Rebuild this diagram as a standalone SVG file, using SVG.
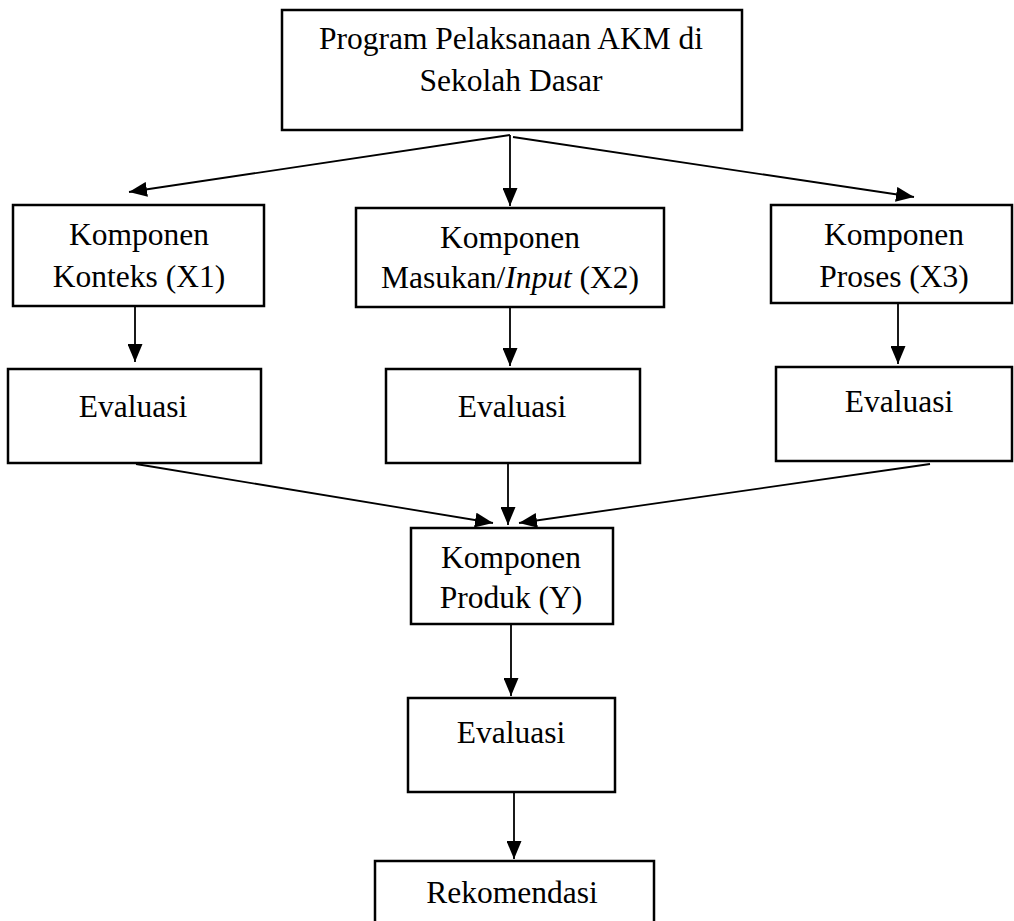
<svg xmlns="http://www.w3.org/2000/svg" width="1014" height="921" viewBox="0 0 1014 921">
<style>
.box{fill:#fff;stroke:#000;stroke-width:2.5}
.t{font-family:"Liberation Serif","Times New Roman",serif;font-size:31.5px;fill:#000;text-anchor:middle}
.c{stroke:#000;stroke-width:1.8;fill:none;marker-end:url(#ah)}
</style>
<defs>
<marker id="ah" viewBox="0 0 18 15" refX="18" refY="7.5" markerWidth="18" markerHeight="15" markerUnits="userSpaceOnUse" orient="auto">
<path d="M0,0 L18,7.5 L0,15 z" fill="#000"/>
</marker>
</defs>
<rect width="1014" height="921" fill="#fff"/>
<g id="connectors">
<line class="c" x1="510" y1="135" x2="129" y2="192"/>
<line class="c" x1="510" y1="135" x2="510" y2="206"/>
<line class="c" x1="513" y1="137" x2="914" y2="197"/>
<line class="c" x1="135" y1="306" x2="135" y2="362"/>
<line class="c" x1="510" y1="307" x2="510" y2="366"/>
<line class="c" x1="898" y1="303" x2="898" y2="364"/>
<line class="c" x1="136" y1="464" x2="493" y2="523"/>
<line class="c" x1="508" y1="463" x2="508" y2="525"/>
<line class="c" x1="930" y1="464" x2="519" y2="523"/>
<line class="c" x1="511" y1="624" x2="511" y2="696"/>
<line class="c" x1="514" y1="792" x2="514" y2="859"/>
</g>
<g id="program">
<rect class="box" x="282" y="10" width="460" height="120"/>
<text class="t" x="511" y="49">Program Pelaksanaan AKM di</text>
<text class="t" x="511" y="91">Sekolah Dasar</text>
</g>
<g id="konteks">
<rect class="box" x="13" y="205" width="251" height="101"/>
<text class="t" x="139" y="245">Komponen</text>
<text class="t" x="139" y="287">Konteks (X1)</text>
</g>
<g id="masukan">
<rect class="box" x="356" y="208" width="308" height="99"/>
<text class="t" x="510" y="248">Komponen</text>
<text class="t" x="510" y="288">Masukan/<tspan font-style="italic">Input</tspan> (X2)</text>
</g>
<g id="proses">
<rect class="box" x="771" y="205" width="241" height="98"/>
<text class="t" x="894" y="245">Komponen</text>
<text class="t" x="894" y="287">Proses (X3)</text>
</g>
<g id="evaluasi1">
<rect class="box" x="8" y="369" width="253" height="94"/>
<text class="t" x="133" y="417">Evaluasi</text>
</g>
<g id="evaluasi2">
<rect class="box" x="386" y="369" width="254" height="94"/>
<text class="t" x="512" y="417">Evaluasi</text>
</g>
<g id="evaluasi3">
<rect class="box" x="776" y="367" width="236" height="94"/>
<text class="t" x="899" y="412">Evaluasi</text>
</g>
<g id="produk">
<rect class="box" x="411" y="528" width="202" height="96"/>
<text class="t" x="511" y="568">Komponen</text>
<text class="t" x="511" y="608">Produk (Y)</text>
</g>
<g id="evaluasi4">
<rect class="box" x="408" y="698" width="207" height="94"/>
<text class="t" x="511" y="743">Evaluasi</text>
</g>
<g id="rekomendasi">
<rect class="box" x="375" y="861" width="279" height="80"/>
<text class="t" x="512" y="903">Rekomendasi</text>
</g>
</svg>
